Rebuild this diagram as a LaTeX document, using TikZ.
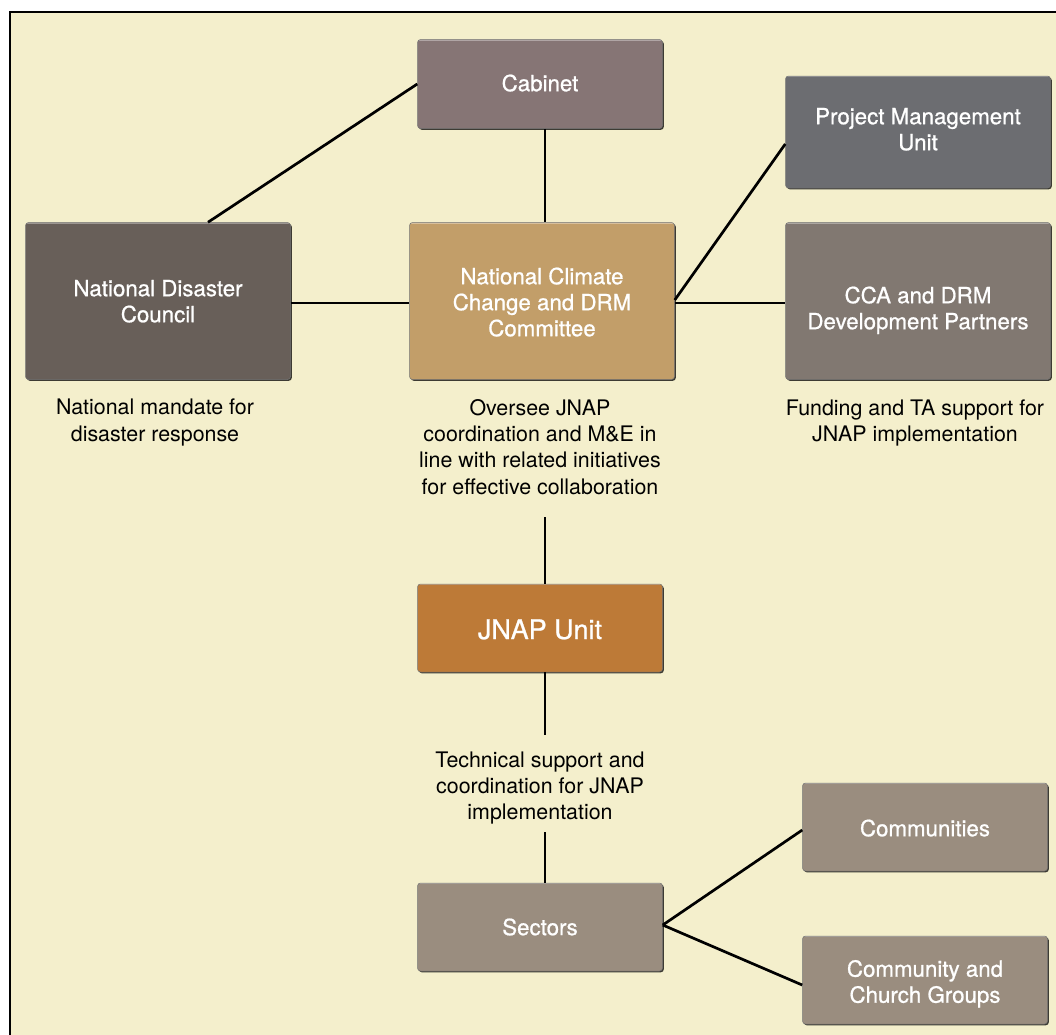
\documentclass[tikz,border=0pt]{standalone}
\usepackage{fontspec}
\setmainfont{TeX Gyre Heros}
\newfontfamily\boxfam[FakeBold=0.8]{TeX Gyre Heros}
\usetikzlibrary{shadows,calc}
\definecolor{cream}{HTML}{F4EFCC}
\definecolor{cabc}{HTML}{867575}
\definecolor{ndcc}{HTML}{685F59}
\definecolor{ncccc}{HTML}{C29E69}
\definecolor{pmuc}{HTML}{6C6D71}
\definecolor{ccac}{HTML}{817871}
\definecolor{jnapc}{HTML}{BD7A37}
\definecolor{secc}{HTML}{9A8D7F}
\newcommand\bodyfnt{\fontsize{21.4}{26.3}\selectfont}
\newcommand\boxfnt{\boxfam\fontsize{22.3}{26}\selectfont}
\newcommand\bigfnt{\boxfam\fontsize{27}{30}\selectfont}
\newcommand\shiftedtext[2]{\raisebox{-#1}[\height][\depth]{\begin{tabular}{@{}c@{}}#2\end{tabular}}}
\begin{document}
\begin{tikzpicture}[x=1pt,y=-1pt,
  orgbox/.style={rounded corners=3pt, text=white, align=center, font=\boxfnt,
    inner sep=0pt, draw=black!55, line width=0.5pt,
    drop shadow={shadow xshift=1.3pt, shadow yshift=-1.3pt, fill=black, opacity=0.75},
    path picture={\draw[white, opacity=0.35, line width=2pt]
      (path picture bounding box.north west) -- (path picture bounding box.north east);}},
  capnode/.style={align=center, font=\bodyfnt, text=black, inner sep=0pt},
  link/.style={line width=2.7pt, black}]
\useasboundingbox (0,0) rectangle (1056,1034);
\fill[white] (0,0) rectangle (1056,1034);
\draw[fill=cream, line width=1.2pt] (10,12) rectangle (1070,1050);

% boxes
\node[orgbox, fill=cabc, minimum width=245pt, minimum height=89pt] (cab) at (540,84) {\shiftedtext{2pt}{Cabinet}};
\node[orgbox, fill=ndcc, minimum width=265pt, minimum height=157pt] (ndc) at (158,301) {\shiftedtext{3pt}{National Disaster\\Council}};
\node[orgbox, fill=ncccc, minimum width=265pt, minimum height=157pt] (nccc) at (542,301) {\shiftedtext{4pt}{National Climate\\Change and DRM\\Committee}};
\node[orgbox, fill=pmuc, minimum width=265pt, minimum height=112pt] (pmu) at (918,132) {\shiftedtext{0pt}{Project Management\\Unit}};
\node[orgbox, fill=ccac, minimum width=265pt, minimum height=157pt] (cca) at (918,301) {\shiftedtext{10pt}{CCA and DRM\\Development Partners}};
\node[orgbox, fill=jnapc, minimum width=245pt, minimum height=88pt, font=\bigfnt] (jnap) at (540,628) {\shiftedtext{5pt}{JNAP Unit}};
\node[orgbox, fill=secc, minimum width=245pt, minimum height=88pt] (sec) at (540,927) {Sectors};
\node[orgbox, fill=secc, minimum width=245pt, minimum height=88pt] (com) at (925,827) {\shiftedtext{4pt}{Communities}};
\node[orgbox, fill=secc, minimum width=245pt, minimum height=88pt] (chg) at (925,980) {\shiftedtext{4.5pt}{Community and\\Church Groups}};

% captions
\node[capnode] (capN) at (155,422.5) {National mandate for\\disaster response};
\node[capnode] (capO) at (540,447) {Oversee JNAP\\coordination and M\&E in\\line with related initiatives\\for effective collaboration};
\node[capnode] (capF) at (915,423) {Funding and TA support for\\JNAP implementation};
\node[capnode] (capT) at (540,788) {Technical support and\\coordination for JNAP\\implementation};

% connectors
\draw[link] (cab.west) -- ([xshift=50pt]ndc.north);
\draw[link] ([xshift=5pt]cab.south) -- ([xshift=3pt]nccc.north);
\draw[link] ([yshift=-2pt]ndc.east) -- ([yshift=-2pt]nccc.west);
\draw[link] ([yshift=-2pt]nccc.east) -- ([yshift=-2pt]cca.west);
\draw[link] ([yshift=1pt]nccc.east) -- ([yshift=-12pt]pmu.west);
\draw[link] ([xshift=5pt]capO.south |- 0,517) -- ([xshift=5pt]jnap.north);
\draw[link] ([xshift=5pt]jnap.south) -- ([xshift=5pt]capT.north |- 0,735);
\draw[link] ([xshift=5pt]capT.south |- 0,832) -- ([xshift=5pt]sec.north);
\draw[link] ([yshift=2pt]sec.east) -- ([yshift=-3pt]com.west);
\draw[link] ([yshift=2pt]sec.east) -- ([yshift=-5pt]chg.west);
\end{tikzpicture}
\end{document}
